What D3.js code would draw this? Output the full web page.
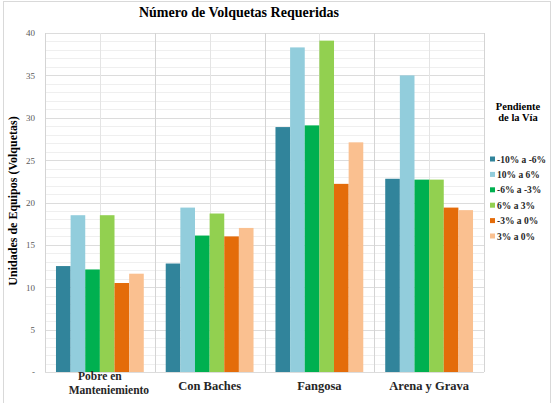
<!DOCTYPE html>
<html>
<head>
<meta charset="utf-8">
<script src="https://cdn.jsdelivr.net/npm/d3@7"></script>
<style>
  body { margin: 0; background: #fff; }
  text { font-family: "Liberation Serif", "Times New Roman", serif; }
</style>
</head>
<body>
<div id="chart"></div>
<script>
// categories (each may be split on two lines)
const categories = ["Pobre en Manteniemiento", "Con Baches", "Fangosa", "Arena y Grava"];
const categoryLines = [["Pobre en", "Manteniemiento"], ["Con Baches"], ["Fangosa"], ["Arena y Grava"]];
const seriesNames = ["-10% a -6%", "10% a 6%", "-6% a -3%", "6% a 3%", "-3% a 0%", "3% a 0%"];
const seriesColors = ["#31849B", "#92CDDC", "#00B050", "#92D050", "#E46C0A", "#FAC090"];

// values per series, one per category
const s1 = [12.5, 12.8, 28.9, 22.8];
const s2 = [18.5, 19.4, 38.3, 35.0];
const s3 = [12.1, 16.1, 29.1, 22.7];
const s4 = [18.5, 18.7, 39.1, 22.7];
const s5 = [10.5, 16.0, 22.2, 19.4];
const s6 = [11.6, 17.0, 27.1, 19.1];
const seriesValues = [s1, s2, s3, s4, s5, s6];

const yTicks = [0, 5, 10, 15, 20, 25, 30, 35, 40];

const W = 553, H = 403;
const MARGIN = { LEFT: 45, RIGHT: 69, TOP: 33, BOTTOM: 31 };
const width = W - MARGIN.LEFT - MARGIN.RIGHT;
const height = H - MARGIN.TOP - MARGIN.BOTTOM;

const svg = d3.select("#chart").append("svg")
    .attr("width", W)
    .attr("height", H);

// outer frame
svg.append("rect")
    .attr("x", 3.5).attr("y", 1.5)
    .attr("width", 547).attr("height", 410)
    .attr("fill", "none")
    .attr("stroke", "#d9d9d9");

const g = svg.append("g")
    .attr("transform", `translate(${MARGIN.LEFT}, ${MARGIN.TOP})`);

const x = d3.scaleBand().domain(categories).range([0, width])
    .paddingInner(0.2).paddingOuter(0.1);
const xs = d3.scaleBand().domain(seriesNames).range([0, x.bandwidth()]);
const y = d3.scaleLinear().domain([0, 40]).range([height, 0]);

// minor horizontal grid
g.append("g").selectAll("line")
    .data(d3.range(0, 41, 1).filter(d => d % 5 !== 0))
    .join("line")
    .attr("x1", 0).attr("x2", width)
    .attr("y1", d => Math.round(y(d)) + 0.5).attr("y2", d => Math.round(y(d)) + 0.5)
    .attr("stroke", "#efefef");

// major horizontal grid
g.append("g").selectAll("line")
    .data(yTicks)
    .join("line")
    .attr("x1", 0).attr("x2", width)
    .attr("y1", d => Math.round(y(d)) + 0.5).attr("y2", d => Math.round(y(d)) + 0.5)
    .attr("stroke", "#dcdcdc");

// vertical grid: 8 divisions
const vx = d3.scaleLinear().domain([0, 8]).range([0, width]);
g.append("g").selectAll("line")
    .data(d3.range(0, 9))
    .join("line")
    .attr("x1", d => Math.round(vx(d)) + 0.5).attr("x2", d => Math.round(vx(d)) + 0.5)
    .attr("y1", 0).attr("y2", height)
    .attr("stroke", d => d % 2 === 0 ? "#d4d4d4" : "#e4e4e4");

// bars
const groups = g.selectAll(".cat")
    .data(categories)
    .join("g")
    .attr("class", "cat")
    .attr("transform", d => `translate(${x(d)}, 0)`);

groups.selectAll("rect")
    .data((c, ci) => seriesNames.map((s, si) => ({ s, si, v: seriesValues[si][ci] })))
    .join("rect")
    .attr("x", d => xs(d.s))
    .attr("width", xs.bandwidth())
    .attr("y", d => y(d.v))
    .attr("height", d => y(0) - y(d.v))
    .attr("fill", d => seriesColors[d.si]);

// y axis labels
const yAxis = g.append("g")
    .call(d3.axisLeft(y).tickValues(yTicks).tickSize(0).tickPadding(10)
        .tickFormat(d => d === 0 ? "-" : d));
yAxis.select(".domain").remove();
yAxis.selectAll("text")
    .style("font-family", "Liberation Serif, serif")
    .style("font-size", "9px")
    .attr("fill", "#595959");

// x labels
const xl = g.append("g").attr("transform", `translate(0, ${height})`);
categoryLines.forEach((lines, i) => {
    const cx = x(categories[i]) + x.bandwidth() / 2;
    if (lines.length === 2) {
        xl.append("text")
            .attr("x", cx).attr("y", 8)
            .attr("text-anchor", "middle")
            .attr("font-weight", "bold")
            .style("font-size", "11.5px")
            .attr("fill", "#262626")
            .text(lines[0]);
        xl.append("text")
            .attr("x", cx + 9).attr("y", 21.5)
            .attr("text-anchor", "middle")
            .attr("font-weight", "bold")
            .style("font-size", "11.5px")
            .attr("fill", "#262626")
            .text(lines[1]);
    } else {
        xl.append("text")
            .attr("x", cx).attr("y", 18)
            .attr("text-anchor", "middle")
            .attr("font-weight", "bold")
            .style("font-size", "12.5px")
            .attr("fill", "#262626")
            .text(lines[0]);
    }
});

// title
svg.append("text")
    .attr("x", 239)
    .attr("y", 17)
    .attr("text-anchor", "middle")
    .attr("font-weight", "bold")
    .style("font-size", "14px")
    .attr("fill", "#000")
    .text("Número de Volquetas Requeridas");

// y title
svg.append("text")
    .attr("transform", "rotate(-90)")
    .attr("x", -201)
    .attr("y", 17)
    .attr("text-anchor", "middle")
    .attr("font-weight", "bold")
    .style("font-size", "12px")
    .attr("fill", "#000")
    .text("Unidades de Equipos (Volquetas)");

// legend
const legend = svg.append("g");
legend.append("text")
    .attr("x", 518).attr("y", 110)
    .attr("text-anchor", "middle")
    .attr("font-weight", "bold")
    .style("font-size", "10.5px")
    .text("Pendiente");
legend.append("text")
    .attr("x", 518).attr("y", 121)
    .attr("text-anchor", "middle")
    .attr("font-weight", "bold")
    .style("font-size", "10.5px")
    .text("de la Vía");

const items = legend.selectAll(".item")
    .data(seriesNames)
    .join("g")
    .attr("class", "item")
    .attr("transform", (d, i) => `translate(490, ${159 + i * 15.4})`);
items.append("rect")
    .attr("x", 0).attr("y", -2.5)
    .attr("width", 5).attr("height", 5)
    .attr("fill", (d, i) => seriesColors[i]);
items.append("text")
    .attr("x", 7).attr("y", 3.5)
    .attr("font-weight", "bold")
    .style("font-size", "9.5px")
    .attr("fill", "#262626")
    .text(d => d);
</script>
</body>
</html>
